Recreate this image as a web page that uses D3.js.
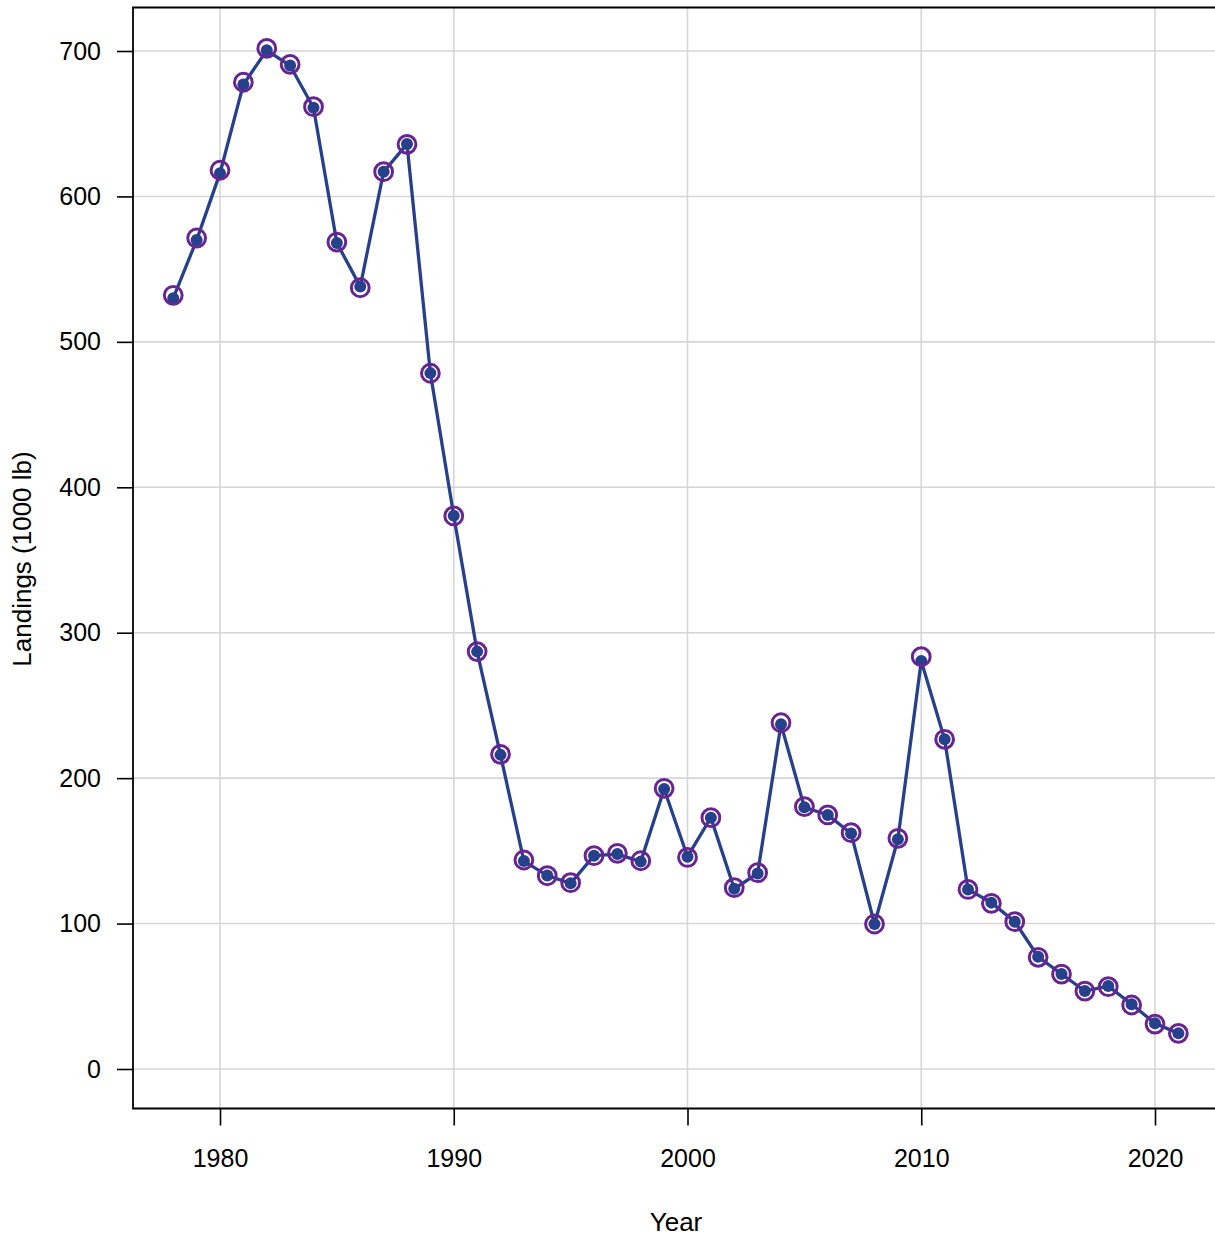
<!DOCTYPE html>
<html><head><meta charset="utf-8">
<script src="https://cdn.jsdelivr.net/npm/d3@7"></script>
<style>html,body{margin:0;padding:0;background:#fff;}svg{display:block;font-family:"Liberation Sans",Arial,sans-serif;}</style>
</head><body>
<svg id="chart" width="1215" height="1237"></svg>
<script>
const years = d3.range(1978, 2022);
const lineValues = [530,570,616,677,700.5,690,661,568,538,617,636,478.5,380.5,287,216,143,133,127.7,146.7,147.8,142.6,192.5,146,172.8,124,134.5,237,180,174.7,162,99.7,158,280.5,226.7,123.5,114.4,101.3,77.2,65.3,53.6,57,44.5,31.4,24.5];
const circleValues = [532,571.4,618,678.5,701.8,690.8,661.7,568.6,537.2,617,635.8,478.4,380.3,287,216.4,143.7,132.9,128.1,146.7,148.3,143.2,193,145.5,172.8,124.7,135,238.1,180.4,174.7,162.5,99.7,158.6,283.5,226.7,123.5,113.9,101.3,76.8,65.3,53.6,56.6,44,30.9,24.5];
const xTicks = [1980,1990,2000,2010,2020];
const yTicks = [0,100,200,300,400,500,600,700];
const xTitle = "Year";
const yTitle = "Landings (1000 lb)";

(function(){
const svg = d3.select("#chart");
const pL = 133, pT = 7.5, pB = 1108.5, pR = 1218.6;
const x = d3.scaleLinear().domain([1980, 2020]).range([220, 1155]);
const y = d3.scaleLinear().domain([0, 700]).range([1069, 51]);
const FS = 25;

// grid
svg.append("g").selectAll("line").data(xTicks).join("line")
  .attr("x1", d => x(d)).attr("x2", d => x(d)).attr("y1", pT).attr("y2", pB)
  .attr("stroke", "#d6d6d6").attr("stroke-width", 1.6);
svg.append("g").selectAll("line").data(yTicks).join("line")
  .attr("x1", pL).attr("x2", pR).attr("y1", d => y(d)).attr("y2", d => y(d))
  .attr("stroke", "#d6d6d6").attr("stroke-width", 1.6);

// axes
const xAxis = d3.axisBottom(x).tickValues(xTicks).tickSize(17).tickPadding(24).tickFormat(d3.format("d"));
const gx = svg.append("g").attr("transform", `translate(0,${pB})`).call(xAxis);
gx.select(".domain").remove();
gx.selectAll(".tick line").attr("stroke", "#000").attr("stroke-width", 1.6);
gx.selectAll("text").attr("font-size", FS).attr("fill", "#000").attr("font-family", "Liberation Sans, Arial, sans-serif");

const yAxis = d3.axisLeft(y).tickValues(yTicks).tickSize(16).tickPadding(16).tickFormat(d3.format("d"));
const gy = svg.append("g").attr("transform", `translate(${pL},0)`).call(yAxis);
gy.select(".domain").remove();
gy.selectAll(".tick line").attr("stroke", "#000").attr("stroke-width", 1.6);
gy.selectAll("text").attr("font-size", FS).attr("fill", "#000").attr("font-family", "Liberation Sans, Arial, sans-serif");

// box (left, bottom, top)
svg.append("path")
  .attr("d", `M${pR},${pT}H${pL}V${pB}H${pR}`)
  .attr("fill", "none").attr("stroke", "#000").attr("stroke-width", 1.8);

// titles
svg.append("text").attr("x", (pL + 1215) / 2 + 2).attr("y", 1231)
  .attr("text-anchor", "middle").attr("font-size", 26).text(xTitle);
svg.append("text").attr("transform", `translate(31,${559}) rotate(-90)`)
  .attr("text-anchor", "middle").attr("font-size", 26).text(yTitle);

// line
const lineData = years.map((yr, i) => ({yr, v: lineValues[i]}));
const circData = years.map((yr, i) => ({yr, v: circleValues[i]}));
svg.append("path").datum(lineData)
  .attr("d", d3.line().x(d => x(d.yr)).y(d => y(d.v)))
  .attr("fill", "none").attr("stroke", "#27408b").attr("stroke-width", 3.3);
svg.append("g").selectAll("circle").data(lineData).join("circle")
  .attr("cx", d => x(d.yr)).attr("cy", d => y(d.v)).attr("r", 6)
  .attr("fill", "#27408b");
svg.append("g").selectAll("circle").data(circData).join("circle")
  .attr("cx", d => x(d.yr)).attr("cy", d => y(d.v)).attr("r", 8.9)
  .attr("fill", "none").attr("stroke", "#6a2491").attr("stroke-width", 3);
})();
</script>
</body></html>
